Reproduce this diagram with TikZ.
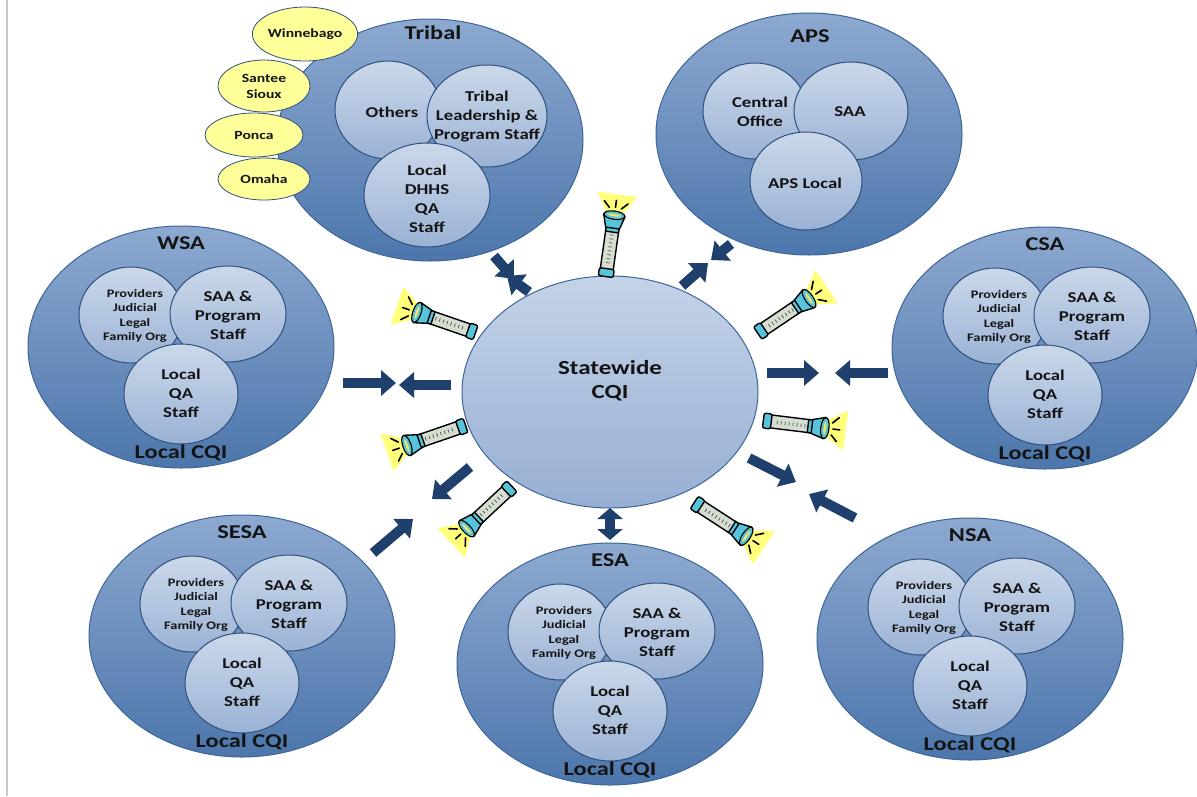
\documentclass[tikz,border=0pt]{standalone}
\usepackage{fontspec}
\setmainfont{Carlito}[FakeStretch=1.25]
\usetikzlibrary{arrows.meta, shapes.geometric}

\definecolor{regiontop}{HTML}{8DA9D0}
\definecolor{regionbot}{HTML}{4C76AC}
\definecolor{regionline}{HTML}{3E6598}
\definecolor{teamtop}{HTML}{CBD8EA}
\definecolor{teambot}{HTML}{9BB2D5}
\definecolor{teamline}{HTML}{2E507D}
\definecolor{cqitop}{HTML}{C4D3E8}
\definecolor{cqibot}{HTML}{97AFD3}
\definecolor{arrowblue}{HTML}{1F406C}
\definecolor{tribeyellow}{HTML}{FFFF99}
\definecolor{beamyellow}{HTML}{FFFF7A}
\definecolor{torchcyan}{HTML}{56C4DA}
\definecolor{barrel}{HTML}{D6DED2}
\definecolor{lens}{HTML}{F2E46A}
\definecolor{inkdark}{HTML}{141414}

\tikzset{
  region/.style={ellipse, draw=regionline, line width=1pt, top color=regiontop,
    bottom color=regionbot, minimum width=306pt, minimum height=242pt, inner sep=0pt},
  team/.style={ellipse, draw=teamline, line width=1pt, top color=teamtop,
    bottom color=teambot, minimum width=104pt, minimum height=96pt, inner sep=0pt},
  tribe/.style={ellipse, draw=teamline, line width=0.8pt, fill=tribeyellow, inner sep=0pt,
    align=center, text=inkdark, font=\bfseries\fontsize{12.5}{16}\selectfont},
  regiontitle/.style={text=inkdark, font=\bfseries\fontsize{19.5}{22}\selectfont},
  teamtext/.style={align=center, text=inkdark, font=\bfseries\fontsize{15}{19}\selectfont},
  memberstext/.style={align=center, text=inkdark, font=\bfseries\fontsize{11.5}{14.5}\selectfont},
  blockarrow/.style={draw=arrowblue, line width=10pt, -{Triangle[length=15pt, width=25pt]}},
  torch/.pic={
    % light cone with rays
    \fill[beamyellow] (20,-9) -- (38,-20) -- (38,20) -- (20,9) -- cycle;
    \draw[line width=1.6pt, line cap=round] (25,0) -- (32,0) (24,-6) -- (30,-12) (24,6) -- (30,12);
    % barrel and tail cap
    \draw[line width=1.4pt, fill=barrel, rounded corners=2pt] (-40,-6.5) rectangle (6,6.5);
    \draw[line width=1.4pt, fill=torchcyan, rounded corners=2pt] (-45,-7.5) rectangle (-37,7.5);
    \foreach \t in {-31,-27,...,-3} \draw[black!70, line width=0.7pt] (\t,-1.5) -- (\t,2);
    \draw[line width=1.4pt, fill=torchcyan] (0,-6.5) rectangle (5,6.5);
    % head and lens
    \draw[line width=1.4pt, fill=torchcyan] (4,-7) -- (16,-10.5) -- (16,10.5) -- (4,7) -- cycle;
    \draw[line width=1.4pt, fill=lens] (17,0) ellipse [x radius=4, y radius=10.5];
    \draw[torchcyan, line width=2pt] (17,0) ellipse [x radius=2.4, y radius=8.2];
  }
}

\begin{document}
\begin{tikzpicture}[x=1pt, y=-1pt]
  \useasboundingbox (0,0) rectangle (1197,796);
  \fill[white] (0,0) rectangle (1197,796);
  \draw[black!22, line width=2pt] (7,0) -- (7,796);

  % Tribal circle with its member tribes
  \node[region] (tribal) at (430,140) {};
  \node[regiontitle] (tribal-title) at (433,33) {Tribal};
  \node[team, minimum width=106pt, minimum height=98pt] (others) at (388,110) {};
  \node[teamtext] (others-txt) at (392,112) {Others};
  \node[team, minimum width=120pt, minimum height=102pt] (lead) at (487,116) {};
  \node[teamtext] (lead-txt) at (487,117) {Tribal\\Leadership \&\\Program Staff};
  \node[team, minimum width=126pt, minimum height=104pt] (dhhs) at (427,195) {};
  \node[teamtext] (dhhs-txt) at (427,199) {Local\\DHHS\\QA\\Staff};
  \node[tribe, minimum width=92pt, minimum height=42pt] (omaha) at (264,179) {Omaha};
  \node[tribe, minimum width=98pt, minimum height=44pt] (ponca) at (254,135) {Ponca};
  \node[tribe, minimum width=92pt, minimum height=52pt] (santee) at (264,86) {Santee\\Sioux};
  \node[tribe, minimum width=104pt, minimum height=54pt] (winnebago) at (305,34) {Winnebago};

  % APS circle
  \node[region] (aps) at (809,134) {};
  \node[regiontitle] (aps-title) at (810,36) {APS};
  \node[team] (central) at (755,111) {};
  \node[teamtext] (central-txt) at (760,112) {Central\\Office};
  \node[team, minimum width=114pt, minimum height=98pt] (aps-saa) at (851,111) {};
  \node[teamtext] (aps-saa-txt) at (850,112) {SAA};
  \node[team, minimum width=112pt, minimum height=98pt] (aps-local) at (806,181) {};
  \node[teamtext] (aps-local-txt) at (805,183) {APS Local};

  % service areas
  \foreach \nm/\cx/\cy/\ttl in {wsa/181/347/WSA, csa/1045/348/CSA, sesa/242/636/SESA,
      esa/610/664/ESA, nsa/970/639/NSA}{
    \node[region] (\nm) at (\cx,\cy) {};
    \node[regiontitle] (\nm-title) at (\cx,\cy-104) {\ttl};
    \node[team] (\nm-prov) at (\cx-50,\cy-32) {};
    \node[memberstext] (\nm-prov-txt) at (\cx-46,\cy-31) {Providers\\Judicial\\Legal\\Family Org};
    \node[team, minimum width=116pt] (\nm-saa) at (\cx+47,\cy-33) {};
    \node[teamtext] (\nm-saa-txt) at (\cx+47,\cy-32) {SAA \&\\Program\\Staff};
    \node[team, minimum width=114pt, minimum height=100pt] (\nm-qa) at (\cx,\cy+47) {};
    \node[teamtext] (\nm-qa-txt) at (\cx,\cy+46) {Local\\QA\\Staff};
    \node[regiontitle] (\nm-cqi) at (\cx,\cy+106) {Local CQI};
  }

  % statewide circle in the middle
  \node[ellipse, draw=regionline, line width=1pt, top color=cqitop, bottom color=cqibot,
    minimum width=296pt, minimum height=232pt] (state) at (610,392) {};
  \node[teamtext, font=\bfseries\fontsize{20}{24}\selectfont] (state-txt) at (610,381) {Statewide\\CQI};

  % flashlights round the statewide circle
  \pic (torch1) [rotate=82] at (612,232) {torch};
  \pic (torch2) [rotate=161] at (433,318) {torch};
  \pic (torch3) [rotate=34] at (795,308) {torch};
  \pic (torch4) [rotate=-7] at (808,426) {torch};
  \pic (torch5) [rotate=-161] at (423,440) {torch};
  \pic (torch6) [rotate=-137] at (479,517) {torch};
  \pic (torch7) [rotate=-33] at (732,527) {torch};

  % block arrows in both directions
  \foreach \a/\ax/\ay/\bx/\by in {wsa-in/343/383/396/383, wsa-out/451/385/399/385,
      tribal-in/494/256/514/279, tribal-out/529/292/507/276,
      aps-in/682/286/708/263, aps-out/731/244/711/260,
      csa-in/767/373/819/373, csa-out/888/373/835/373,
      nsa-in/749/458/796/482, nsa-out/855/518/809/494,
      sesa-in/470/467/432/499, sesa-out/373/553/413/519}{
    \coordinate (\a-s) at (\ax,\ay);
    \coordinate (\a-e) at (\bx,\by);
    \draw[blockarrow] (\a-s) -- (\a-e);
  }
  \coordinate (esa-s) at (610,508);
  \coordinate (esa-e) at (610,540);
  \draw[draw=arrowblue, line width=10pt,
    {Triangle[length=11pt, width=25pt]}-{Triangle[length=11pt, width=25pt]}] (esa-s) -- (esa-e);
\end{tikzpicture}
\end{document}
